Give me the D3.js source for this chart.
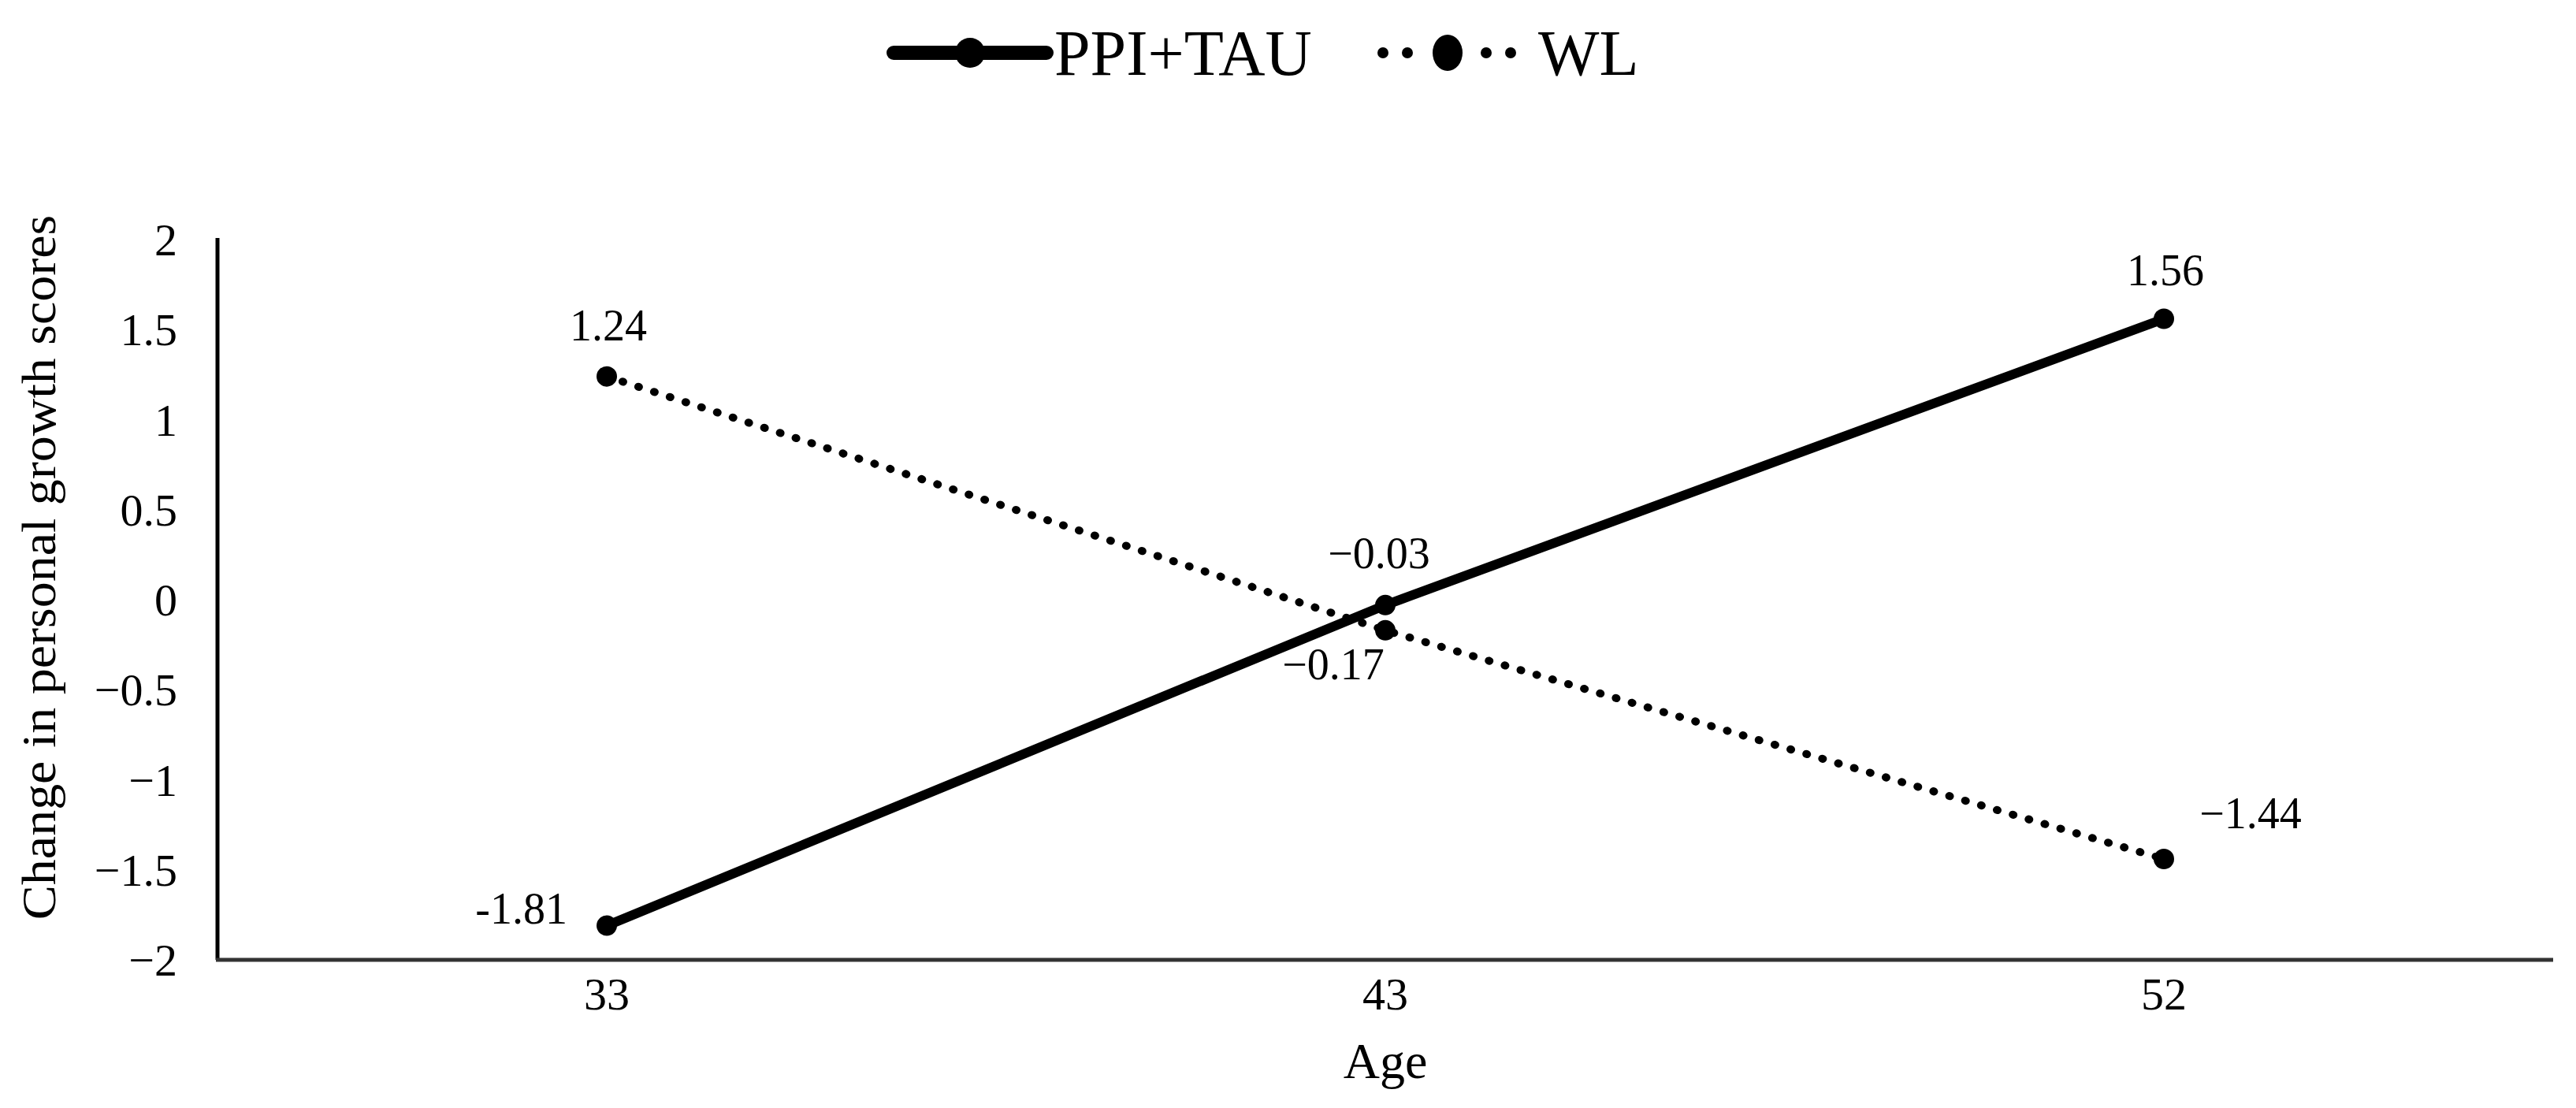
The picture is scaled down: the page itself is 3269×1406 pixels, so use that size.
<!DOCTYPE html>
<html>
<head>
<meta charset="utf-8">
<script src="https://cdn.jsdelivr.net/npm/d3@7"></script>
<style>
  html, body { margin: 0; padding: 0; background: #fff; }
  svg { display: block; }
  text { font-family: "Liberation Serif", "Times New Roman", serif; fill: #000; }
</style>
</head>
<body>
<svg id="chart" width="3269" height="1406"></svg>
<script>
// ---------- data ----------
const categories = ["33", "43", "52"];
const seriesNames = ["PPI+TAU", "WL"];
const ppiValues = [-1.81, -0.03, 1.56];
const wlValues = [1.24, -0.17, -1.44];
const ppiLabels = ["-1.81", "\u22120.03", "1.56"];
const wlLabels = ["1.24", "\u22120.17", "\u22121.44"];
const yTickValues = [-2, -1.5, -1, -0.5, 0, 0.5, 1, 1.5, 2];
const yTickLabels = ["\u22122", "\u22121.5", "\u22121", "\u22120.5", "0", "0.5", "1", "1.5", "2"];
const xTitle = "Age";
const yTitle = "Change in personal growth scores";

// ---------- layout ----------
const plot = { left: 276, right: 3240, top: 304, bottom: 1218 };
const svg = d3.select("#chart");

const x = d3.scaleBand().domain(categories).range([plot.left, plot.right]).padding(0);
const xc = d => x(d) + x.bandwidth() / 2;
const y = d3.scaleLinear().domain([-2, 2]).range([plot.bottom, plot.top]);

// y axis
const yAxis = d3.axisLeft(y).tickValues(yTickValues).tickSize(0).tickPadding(51)
  .tickFormat((d, i) => yTickLabels[i]);
const gy = svg.append("g").attr("transform", `translate(${plot.left},0)`).call(yAxis);
gy.select(".domain").attr("stroke", "#000").attr("stroke-width", 5).attr("d", `M0,${plot.top - 2}V${plot.bottom}`);
gy.selectAll(".tick text").attr("font-size", 58).attr("font-family", "Liberation Serif").attr("fill", "#000").attr("dy", "0.34em");

// x axis
const xAxis = d3.axisBottom(x).tickSize(0).tickPadding(22);
const gx = svg.append("g").attr("transform", `translate(0,${plot.bottom})`).call(xAxis);
gx.select(".domain").attr("stroke", "#333").attr("stroke-width", 5).attr("d", `M${plot.left - 2},0H${plot.right}`);
gx.selectAll(".tick text").attr("font-size", 58).attr("font-family", "Liberation Serif").attr("fill", "#000").attr("dy", "0.71em");

// axis titles
svg.append("text").attr("x", xc("43")).attr("y", 1368).attr("text-anchor", "middle")
  .attr("font-size", 64).text(xTitle);
svg.append("text").attr("transform", `translate(70,720) rotate(-90) scale(1,0.92)`)
  .attr("text-anchor", "middle").attr("font-size", 66).text(yTitle);

// lines
const line = d3.line().x((d, i) => xc(categories[i])).y(d => y(d));
svg.append("path").datum(wlValues).attr("d", line).attr("fill", "none")
  .attr("stroke", "#000").attr("stroke-width", 10).attr("stroke-linecap", "round")
  .attr("stroke-dasharray", "1 20");
svg.append("path").datum(ppiValues).attr("d", line).attr("fill", "none")
  .attr("stroke", "#000").attr("stroke-width", 12);

// markers
svg.append("g").selectAll("circle").data(wlValues).join("circle")
  .attr("cx", (d, i) => xc(categories[i])).attr("cy", d => y(d)).attr("r", 13).attr("fill", "#000");
svg.append("g").selectAll("circle").data(ppiValues).join("circle")
  .attr("cx", (d, i) => xc(categories[i])).attr("cy", d => y(d)).attr("r", 13).attr("fill", "#000");

// data labels (offsets from marker: dx, dy to text visual centre, anchor)
const ppiLabelPos = [[-50, -22, "end"], [-8, -66, "middle"], [2, -62, "middle"]];
const wlLabelPos = [[2, -65, "middle"], [-66, 43, "middle"], [110, -58, "middle"]];
function addLabels(vals, labels, pos) {
  svg.append("g").selectAll("text").data(vals).join("text")
    .attr("x", (d, i) => xc(categories[i]) + pos[i][0])
    .attr("y", (d, i) => y(d) + pos[i][1])
    .attr("dy", "0.34em")
    .attr("text-anchor", (d, i) => pos[i][2])
    .attr("font-size", 56)
    .text((d, i) => labels[i]);
}
addLabels(ppiValues, ppiLabels, ppiLabelPos);
addLabels(wlValues, wlLabels, wlLabelPos);

// legend
const leg = svg.append("g").attr("transform", "translate(0,67)");
// PPI+TAU
leg.append("line").attr("x1", 1134).attr("x2", 1328).attr("y1", 0).attr("y2", 0)
  .attr("stroke", "#000").attr("stroke-width", 18).attr("stroke-linecap", "round");
leg.append("circle").attr("cx", 1231).attr("cy", 0).attr("r", 19).attr("fill", "#000");
leg.append("text").attr("x", 1338).attr("y", 0).attr("dy", "0.34em").attr("font-size", 82).text(seriesNames[0]);
// WL
[[1755, 1786], [1886, 1917]].forEach(([a, b]) => {
  [a, b].forEach(cx => leg.append("circle").attr("cx", cx).attr("cy", 0).attr("r", 7).attr("fill", "#000"));
});
leg.append("ellipse").attr("cx", 1837).attr("cy", 0).attr("rx", 19).attr("ry", 23).attr("fill", "#000");
leg.append("text").attr("x", 1952).attr("y", 0).attr("dy", "0.34em").attr("font-size", 82).text(seriesNames[1]);
</script>
</body>
</html>
